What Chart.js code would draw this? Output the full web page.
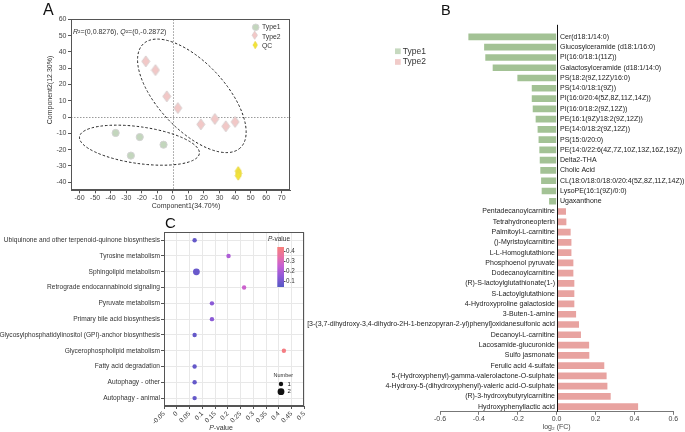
<!DOCTYPE html>
<html>
<head>
<meta charset="utf-8">
<script src="https://cdn.jsdelivr.net/npm/chart.js@4.4.0/dist/chart.umd.min.js"></script>
<style>
  html, body { margin: 0; padding: 0; background: #fff; overflow: hidden; }
  #page { position: relative; width: 685px; height: 432px; font-family: 'Liberation Sans', Arial, sans-serif; }
  .panel { position: absolute; }
  .tag { position: absolute; line-height: 1; color: #111; }
</style>
</head>
<body>
<div id="page">
  <div class="panel" style="left:0;top:0;width:340px;height:215px"><canvas id="chartA"></canvas></div>
  <div class="panel" style="left:0;top:215px;width:340px;height:217px"><canvas id="chartC"></canvas></div>
  <div class="panel" style="left:290px;top:0;width:395px;height:432px"><canvas id="chartB"></canvas></div>
  <div class="tag" style="left:43px;top:2px;font-size:16px">A</div>
  <div class="tag" style="left:441px;top:3px;font-size:14.5px">B</div>
  <div class="tag" style="left:165px;top:215px;font-size:15px">C</div>
</div>
<script>
// ---- A: scores plot ----
const type1Comp1 = [-36.8, -21.3, -6.0, -27.0];
const type1Comp2 = [-9.8, -12.3, -17.0, -23.7];
const type2Comp1 = [-17.4, -11.2, -3.9, 3.2, 18.0, 27.0, 34.0, 40.0];
const type2Comp2 = [34.2, 28.8, 12.7, 5.5, -4.5, -1.2, -5.7, -3.0];
const qcComp1 = [42.0, 42.3, 42.0];
const qcComp2 = [-33.2, -34.6, -36.0];
const comp1Ticks = [-60, -50, -40, -30, -20, -10, 0, 10, 20, 30, 40, 50, 60, 70];
const comp2Ticks = [-40, -30, -20, -10, 0, 10, 20, 30, 40, 50, 60];
// ellipse: centre comp1, centre comp2, semi axes (comp1 units), tilt deg
const ellipseType1 = [-21.5, -17.3, 38.9, 11.8, 8];
const ellipseType2 = [12.2, 13.0, 45.7, 21.5, 47];

// ---- B: log2 fold change ----
const type1Names = ['Cer(d18:1/14:0)', 'Glucosylceramide (d18:1/16:0)', 'PI(16:0/18:1(11Z))',
  'Galactosylceramide (d18:1/14:0)', 'PS(18:2(9Z,12Z)/16:0)', 'PS(14:0/18:1(9Z))',
  'PI(16:0/20:4(5Z,8Z,11Z,14Z))', 'PI(16:0/18:2(9Z,12Z))', 'PE(16:1(9Z)/18:2(9Z,12Z))',
  'PE(14:0/18:2(9Z,12Z))', 'PS(15:0/20:0)', 'PE(14:0/22:6(4Z,7Z,10Z,13Z,16Z,19Z))',
  'Delta2-THA', 'Cholic Acid', 'CL(18:0/18:0/18:0/20:4(5Z,8Z,11Z,14Z))',
  'LysoPE(16:1(9Z)/0:0)', 'Ugaxanthone'];
const type1FC = [-0.454, -0.373, -0.367, -0.329, -0.202, -0.128, -0.128, -0.123, -0.108,
  -0.098, -0.093, -0.089, -0.087, -0.084, -0.080, -0.077, -0.039];
const type2Names = ['Pentadecanoylcarnitine', 'Tetrahydroneopterin', 'Palmitoyl-L-carnitine',
  '()-Myristoylcarnitine', 'L-L-Homoglutathione', 'Phosphoenol pyruvate', 'Dodecanoylcarnitine',
  '(R)-S-lactoylglutathionate(1-)', 'S-Lactoylglutathione', '4-Hydroxyproline galactoside',
  '3-Buten-1-amine', '[3-(3,7-dihydroxy-3,4-dihydro-2H-1-benzopyran-2-yl)phenyl]oxidanesulfonic acid',
  'Decanoyl-L-carnitine', 'Lacosamide-glucuronide', 'Sulfo jasmonate', 'Ferulic acid 4-sulfate',
  '5-(Hydroxyphenyl)-gamma-valerolactone-O-sulphate',
  '4-Hydroxy-5-(dihydroxyphenyl)-valeric acid-O-sulphate',
  '(R)-3-hydroxybutyrylcarnitine', 'Hydroxyphenyllactic acid'];
const type2FC = [0.048, 0.050, 0.072, 0.076, 0.076, 0.086, 0.086, 0.091, 0.091, 0.091,
  0.100, 0.115, 0.125, 0.167, 0.168, 0.245, 0.257, 0.261, 0.278, 0.419];
const fcTicks = [-0.6, -0.4, -0.2, 0, 0.2, 0.4, 0.6];

// ---- C: pathway enrichment ----
const pathways = ['Ubiquinone and other terpenoid-quinone biosynthesis', 'Tyrosine metabolism',
  'Sphingolipid metabolism', 'Retrograde endocannabinoid signaling', 'Pyruvate metabolism',
  'Primary bile acid biosynthesis', 'Glycosylphosphatidylinositol (GPI)-anchor biosynthesis',
  'Glycerophospholipid metabolism', 'Fatty acid degradation', 'Autophagy - other', 'Autophagy - animal'];
const pathwayP = [0.070, 0.203, 0.077, 0.264, 0.138, 0.138, 0.070, 0.420, 0.070, 0.070, 0.070];
const pathwayNumber = [1, 1, 2, 1, 1, 1, 1, 1, 1, 1, 1];
const pTicks = [-0.05, 0, 0.05, 0.1, 0.15, 0.2, 0.25, 0.3, 0.35, 0.4, 0.45, 0.5];
const pBarTicks = [0.1, 0.2, 0.3, 0.4];

const FONT = "'Liberation Sans', Arial, sans-serif";
Chart.defaults.font.family = FONT;
Chart.defaults.font.size = 7;
Chart.defaults.color = '#333';
Chart.defaults.animation = false;
Chart.defaults.events = [];
Chart.defaults.plugins.legend.display = false;
Chart.defaults.plugins.tooltip.enabled = false;

function fixedTicks(values) {
  return function(scale) { scale.ticks = values.map(v => ({ value: v })); };
}

// draws text made of pieces [text, italic]
function richText(ctx, parts, x, y, size, align) {
  ctx.save();
  ctx.textBaseline = 'middle';
  ctx.textAlign = 'left';
  const fonts = parts.map(p => (p[1] ? 'italic ' : '') + size + 'px ' + FONT);
  let w = 0;
  parts.forEach((p, i) => { ctx.font = fonts[i]; w += ctx.measureText(p[0]).width; });
  let cx = align === 'center' ? x - w / 2 : align === 'right' ? x - w : x;
  parts.forEach((p, i) => { ctx.font = fonts[i]; ctx.fillText(p[0], cx, y); cx += ctx.measureText(p[0]).width; });
  ctx.restore();
}

function diamond(w, h, fill, edge) {
  const c = document.createElement('canvas');
  c.width = w + 2; c.height = h + 2;
  const g = c.getContext('2d');
  g.beginPath();
  g.moveTo(c.width / 2, 1); g.lineTo(c.width - 1, c.height / 2);
  g.lineTo(c.width / 2, c.height - 1); g.lineTo(1, c.height / 2);
  g.closePath();
  g.fillStyle = fill; g.fill();
  g.strokeStyle = edge; g.lineWidth = 1; g.stroke();
  return c;
}

const green = '#c3d6bd', pink = '#f2c8c7', yellow = '#f3e437';
const diamondPink = diamond(8, 11, pink, '#d8d0d0');
const diamondYellow = diamond(6, 9, yellow, '#e8d84a');

// ---------------- Panel A ----------------
const decorA = {
  id: 'decorA',
  beforeDatasetsDraw(chart) {
    const { ctx, chartArea: ca, scales: { x, y } } = chart;
    ctx.save();
    ctx.strokeStyle = '#9a9a9a'; ctx.lineWidth = 1; ctx.setLineDash([1.5, 1.5]);
    const x0 = Math.round(x.getPixelForValue(0)) + 0.5, y0 = Math.round(y.getPixelForValue(0)) + 0.5;
    ctx.beginPath();
    ctx.moveTo(x0, ca.top); ctx.lineTo(x0, ca.bottom);
    ctx.moveTo(ca.left, y0); ctx.lineTo(ca.right, y0);
    ctx.stroke();
    ctx.strokeStyle = '#222'; ctx.setLineDash([2.5, 2]);
    [ellipseType1, ellipseType2].forEach(e => {
      const cx = x.getPixelForValue(e[0]), cy = y.getPixelForValue(e[1]);
      const rx = x.getPixelForValue(e[0] + e[2]) - cx, ry = x.getPixelForValue(e[0] + e[3]) - cx;
      ctx.beginPath();
      ctx.ellipse(cx, cy, rx, ry, e[4] * Math.PI / 180, 0, Math.PI * 2);
      ctx.stroke();
    });
    ctx.restore();
  },
  afterDraw(chart) {
    const { ctx, chartArea: ca } = chart;
    ctx.save();
    ctx.strokeStyle = '#555'; ctx.lineWidth = 1;
    ctx.strokeRect(Math.round(ca.left) + 0.5, Math.round(ca.top) + 0.5,
      Math.round(ca.width) - 1, Math.round(ca.height) - 1);
    ctx.fillStyle = '#333';
    richText(ctx, [['R', true], ['²=(0,0.8276), ', false], ['Q', true], ['²=(0,-0.2872)', false]],
      ca.left + 2, ca.top + 12.4, 7, 'left');
    richText(ctx, [['Component1(34.70%)', false]], ca.left + 115, ca.bottom + 15.7, 7, 'center');
    ctx.save();
    ctx.translate(ca.left - 21, ca.top + 70.7);
    ctx.rotate(-Math.PI / 2);
    richText(ctx, [['Component2(12.30%)', false]], 0, 0, 7, 'center');
    ctx.restore();
    // legend
    const lx = ca.right - 34.6, ly = ca.top + 8;
    ctx.fillStyle = green; ctx.strokeStyle = '#d4d4d4';
    ctx.beginPath(); ctx.arc(lx, ly, 3.3, 0, Math.PI * 2); ctx.fill(); ctx.stroke();
    ctx.drawImage(diamondPink, lx - diamondPink.width / 2 + 0.5, ly + 9.4 - diamondPink.height / 2, 7, 10);
    ctx.drawImage(diamondYellow, lx - diamondYellow.width / 2 + 0.5, ly + 18.7 - diamondYellow.height / 2, 6, 9);
    ctx.fillStyle = '#333';
    ['Type1', 'Type2', 'QC'].forEach((t, i) => richText(ctx, [[t, false]], lx + 6.3, ly + i * 9.35, 6.8, 'left'));
    ctx.restore();
  }
};

new Chart(document.getElementById('chartA'), {
  type: 'scatter',
  data: {
    datasets: [
      { label: 'Type1', data: type1Comp1.map((v, i) => ({ x: v, y: type1Comp2[i] })),
        pointStyle: 'circle', pointRadius: 3.6, backgroundColor: green, borderColor: '#d3d3d3', borderWidth: 1 },
      { label: 'Type2', data: type2Comp1.map((v, i) => ({ x: v, y: type2Comp2[i] })),
        pointStyle: diamondPink },
      { label: 'QC', data: qcComp1.map((v, i) => ({ x: v, y: qcComp2[i] })),
        pointStyle: diamondYellow }
    ]
  },
  options: {
    responsive: true, maintainAspectRatio: false,
    layout: { padding: { left: 45.5, right: 49.7, top: 19.3, bottom: 3.7 } },
    scales: {
      x: { min: -65.5, max: 75.5, afterBuildTicks: fixedTicks(comp1Ticks),
        afterFit: s => { s.height = 21; },
        grid: { drawOnChartArea: false, tickLength: 3, tickColor: '#555' },
        border: { color: '#555' },
        ticks: { padding: 1, font: { size: 7 }, color: '#444', maxRotation: 0, autoSkip: false } },
      y: { min: -45, max: 60, afterBuildTicks: fixedTicks(comp2Ticks),
        afterFit: s => { s.width = 25.5; },
        grid: { drawOnChartArea: false, tickLength: 3, tickColor: '#555' },
        border: { color: '#555' },
        ticks: { padding: 1.5, font: { size: 7 }, color: '#444', autoSkip: false } }
    }
  },
  plugins: [decorA]
});

// ---------------- Panel B ----------------
const fcNames = type1Names.concat(type2Names);
const fcValues = type1FC.concat(type2FC);

const decorB = {
  id: 'decorB',
  afterDatasetsDraw(chart) {
    const { ctx, chartArea: ca, scales: { x, y } } = chart;
    const x0 = Math.round(x.getPixelForValue(0)) + 0.5;
    ctx.save();
    ctx.strokeStyle = '#111'; ctx.lineWidth = 1;
    ctx.beginPath(); ctx.moveTo(x0, ca.top - 7); ctx.lineTo(x0, ca.bottom); ctx.stroke();
    ctx.fillStyle = '#222'; ctx.font = '7px ' + FONT; ctx.textBaseline = 'middle';
    fcNames.forEach((name, i) => {
      const py = y.getPixelForValue(i);
      if (fcValues[i] < 0) { ctx.textAlign = 'left'; ctx.fillText(name, x0 + 2.5, py); }
      else { ctx.textAlign = 'right'; ctx.fillText(name, x0 - 2.5, py); }
    });
    // legend
    const lx = ca.left - 45, ly = ca.top + 19.5;
    ctx.fillStyle = '#c6d9bf'; ctx.fillRect(lx, ly - 2.9, 5.7, 5.7);
    ctx.fillStyle = '#f1cbc9'; ctx.fillRect(lx, ly + 10.7 - 2.9, 5.7, 5.7);
    ctx.fillStyle = '#333';
    richText(ctx, [['Type1', false]], lx + 7.7, ly, 8.5, 'left');
    richText(ctx, [['Type2', false]], lx + 7.7, ly + 10.7, 8.5, 'left');
    ctx.restore();
  }
};

new Chart(document.getElementById('chartB'), {
  type: 'bar',
  data: {
    labels: fcNames,
    datasets: [
      { label: 'Type1', data: type1FC.concat(type2FC.map(() => null)), backgroundColor: '#a3c295' },
      { label: 'Type2', data: type1FC.map(() => null).concat(type2FC), backgroundColor: '#e8a3a0' }
    ]
  },
  options: {
    indexAxis: 'y',
    responsive: true, maintainAspectRatio: false,
    datasets: { bar: { grouped: false, barPercentage: 0.65, categoryPercentage: 1 } },
    layout: { padding: { left: 150, right: 11.7, top: 31.8, bottom: 1.1 } },
    scales: {
      x: { min: -0.6, max: 0.6, afterBuildTicks: fixedTicks(fcTicks),
        afterFit: s => { s.height = 19.1; },
        grid: { drawOnChartArea: false, tickLength: 3, tickColor: '#777' },
        border: { color: '#777' },
        ticks: { padding: 0.5, font: { size: 7 }, color: '#444', maxRotation: 0, autoSkip: false,
          callback: v => v.toFixed(1) },
        title: { display: true, text: 'log₂ (FC)', font: { size: 7 }, color: '#444', padding: 0 } },
      y: { display: false }
    }
  },
  plugins: [decorB]
});

// ---------------- Panel C ----------------
const pStops = [[0.04, [84, 88, 196]], [0.15, [146, 90, 216]], [0.25, [198, 96, 212]],
  [0.34, [230, 112, 166]], [0.44, [247, 128, 122]]];
function pColor(p) {
  if (p <= pStops[0][0]) return 'rgb(' + pStops[0][1] + ')';
  for (let i = 1; i < pStops.length; i++) {
    if (p <= pStops[i][0]) {
      const a = pStops[i - 1], b = pStops[i], t = (p - a[0]) / (b[0] - a[0]);
      return 'rgb(' + a[1].map((c, k) => Math.round(c + (b[1][k] - c) * t)).join(',') + ')';
    }
  }
  return 'rgb(' + pStops[pStops.length - 1][1] + ')';
}
const sizeByNumber = n => (n >= 2 ? 3.4 : 2.2);

const decorC = {
  id: 'decorC',
  afterDraw(chart) {
    const { ctx, chartArea: ca } = chart;
    ctx.save();
    ctx.strokeStyle = '#555'; ctx.lineWidth = 1;
    ctx.strokeRect(Math.round(ca.left) + 0.5, Math.round(ca.top) + 0.5,
      Math.round(ca.width) - 1, Math.round(ca.height) - 1);
    ctx.fillStyle = '#333';
    richText(ctx, [['P', true], ['-value', false]], ca.left + 57, ca.bottom + 21.7, 7, 'center');
    // colour bar
    const bx = ca.right - 27, bTop = ca.top + 14.7, bBot = ca.top + 54.7, bw = 6.7;
    const vTop = 0.44, vBot = 0.04;
    const yOf = v => bBot - (v - vBot) / (vTop - vBot) * (bBot - bTop);
    const grad = ctx.createLinearGradient(0, bBot, 0, bTop);
    pStops.forEach(s => grad.addColorStop((s[0] - vBot) / (vTop - vBot), 'rgb(' + s[1] + ')'));
    ctx.fillStyle = grad;
    ctx.fillRect(bx, bTop, bw, bBot - bTop);
    ctx.fillStyle = '#333';
    richText(ctx, [['P', true], ['-value', false]], bx + 1.7, ca.top + 7, 6.5, 'center');
    ctx.strokeStyle = '#555';
    pBarTicks.forEach(v => {
      const ty = Math.round(yOf(v)) + 0.5;
      ctx.beginPath(); ctx.moveTo(bx + bw, ty); ctx.lineTo(bx + bw + 1.5, ty); ctx.stroke();
      richText(ctx, [[String(v), false]], bx + bw + 2, ty, 6.3, 'left');
    });
    // size legend
    const sx = ca.right - 23.3;
    richText(ctx, [['Number', false]], ca.right - 21, ca.bottom - 30.3, 5.5, 'center');
    ctx.fillStyle = '#111';
    [1, 2].forEach((n, i) => {
      const sy = ca.bottom - 22 + i * 7.7;
      ctx.beginPath(); ctx.arc(sx, sy, sizeByNumber(n), 0, Math.PI * 2); ctx.fill();
      richText(ctx, [[String(n), false]], sx + 6.5, sy, 6, 'left');
    });
    ctx.restore();
  }
};

new Chart(document.getElementById('chartC'), {
  type: 'scatter',
  data: {
    datasets: [{
      label: 'Pathways',
      data: pathways.map((p, i) => ({ x: pathwayP[i], y: p })),
      pointRadius: pathwayNumber.map(sizeByNumber),
      backgroundColor: pathwayP.map(pColor),
      borderWidth: 0
    }]
  },
  options: {
    responsive: true, maintainAspectRatio: false,
    layout: { padding: { left: 0, right: 35.7, top: 17.3, bottom: 6 } },
    scales: {
      x: { type: 'linear', min: -0.05, max: 0.5, afterBuildTicks: fixedTicks(pTicks),
        afterFit: s => { s.height = 20; },
        grid: { color: '#e8e8e8', tickLength: 3, tickColor: '#555' },
        border: { color: '#555' },
        ticks: { padding: 1, font: { size: 6.5 }, color: '#333', minRotation: 45, maxRotation: 45,
          autoSkip: false, callback: v => String(+v.toFixed(2)) } },
      y: { type: 'category', labels: pathways, offset: true,
        afterFit: s => { s.width = 164; },
        grid: { color: '#e8e8e8', tickLength: 3, tickColor: '#555' },
        border: { color: '#555' },
        ticks: { padding: 1, font: { size: 6.6 }, color: '#333', autoSkip: false } }
    }
  },
  plugins: [decorC]
});
</script>
</body>
</html>
